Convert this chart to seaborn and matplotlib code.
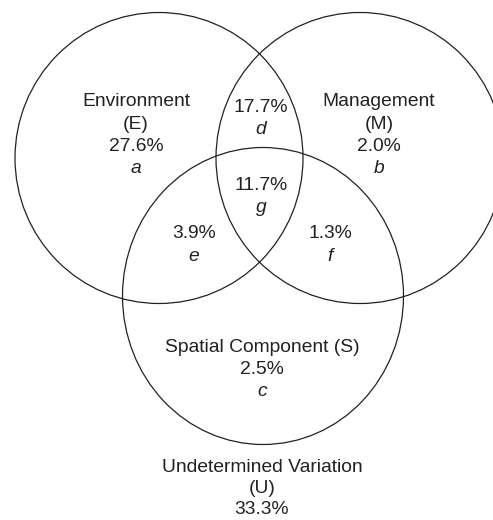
import matplotlib
matplotlib.use("Agg")
import matplotlib.pyplot as plt
from matplotlib.patches import Ellipse
import seaborn as sns

# ---- data ----
set_names = ["Environment\n(E)", "Management\n(M)", "Spatial Component (S)"]
set_values = ["27.6%", "2.0%", "2.5%"]
set_letters = ["a", "b", "c"]
overlap_values = ["17.7%", "11.7%", "3.9%", "1.3%"]
overlap_letters = ["d", "g", "e", "f"]
undetermined_label = "Undetermined Variation\n(U)"
undetermined_value = "33.3%"

# ---- layout (pixel coordinates) ----
circles = [  # cx, cy, w, h
    (159, 158, 288, 291),
    (360, 158, 288, 291),
    (263, 296, 281, 297),
]
LH = 22.3
set_text_pos = [(136, 102), (379, 102), (262, 347)]
overlap_pos = [(261, 107), (261, 185), (194, 234), (330, 234)]

sns.set_theme(style="white")
plt.rcParams["font.family"] = ["Liberation Sans", "DejaVu Sans"]

fig = plt.figure(figsize=(4.93, 5.2), dpi=100)
ax = fig.add_axes([0, 0, 1, 1])
ax.set_xlim(0, 493)
ax.set_ylim(520, 0)
ax.set_axis_off()

for cx, cy, w, h in circles:
    ax.add_patch(Ellipse((cx, cy), w, h, fill=False, edgecolor="#222222", lw=0.9))

FS = 13.9
col = "#222222"
for i, (x, y) in enumerate(set_text_pos):
    lines = set_names[i].split("\n")
    for k, ln in enumerate(lines):
        ax.text(x, y + k * LH, ln, ha="center", va="center", fontsize=FS, color=col)
    n = len(lines)
    ax.text(x, y + n * LH, set_values[i], ha="center", va="center", fontsize=FS, color=col)
    ax.text(x, y + (n + 1) * LH, set_letters[i], ha="center", va="center",
            fontsize=FS, color=col, style="italic")

for i, (x, y) in enumerate(overlap_pos):
    ax.text(x, y, overlap_values[i], ha="center", va="center", fontsize=FS, color=col)
    ax.text(x, y + LH, overlap_letters[i], ha="center", va="center",
            fontsize=FS, color=col, style="italic")

ux, uy = 262, 467
ulines = undetermined_label.split("\n")
for k, ln in enumerate(ulines):
    ax.text(ux, uy + k * 21.5, ln, ha="center", va="center", fontsize=FS, color=col)
ax.text(ux, uy + len(ulines) * 21.5, undetermined_value, ha="center", va="center",
        fontsize=FS, color=col)

fig.savefig("out.png", dpi=100)
